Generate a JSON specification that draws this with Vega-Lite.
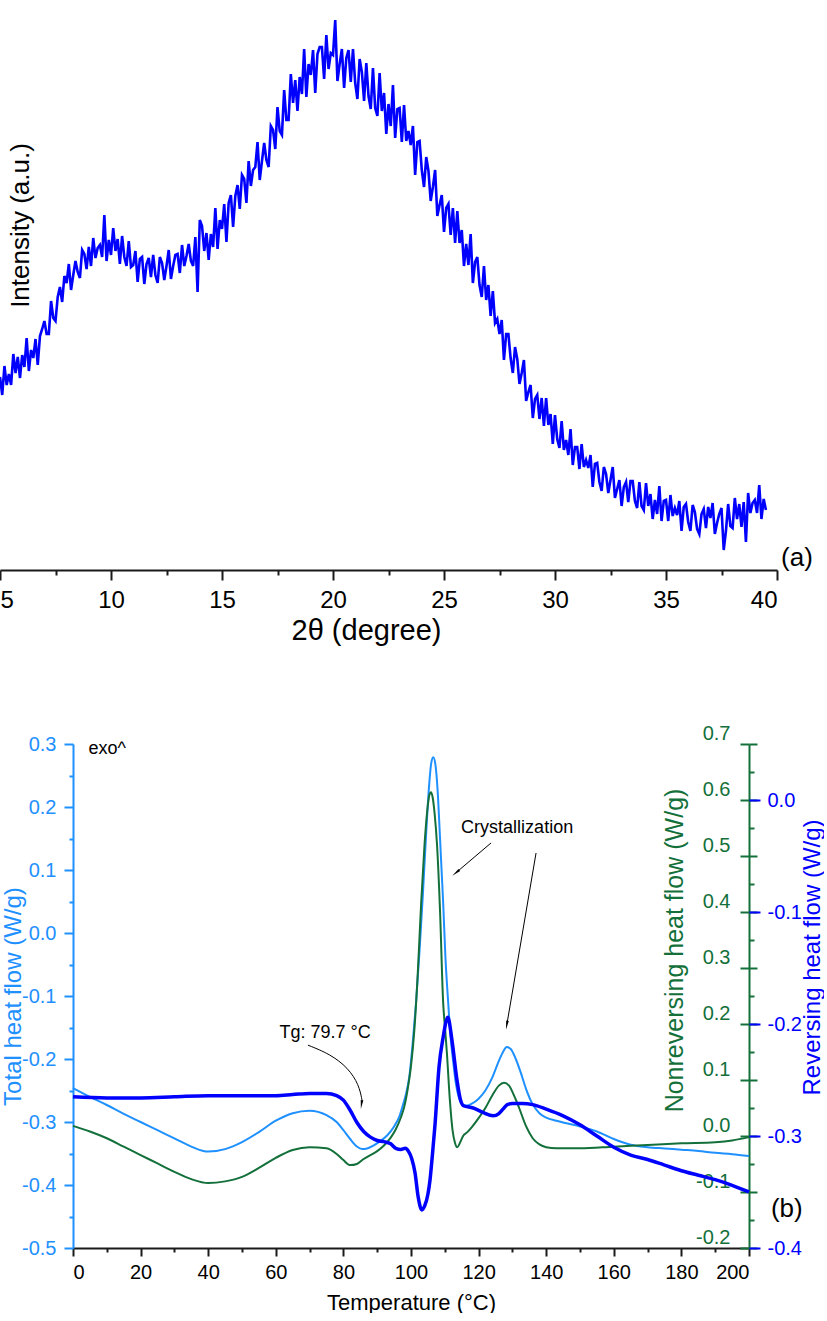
{
  "$schema": "https://vega.github.io/schema/vega-lite/v6.json",
  "background": "white",
  "padding": {"left": -6, "top": 0, "right": 0, "bottom": 0},
  "config": {"view": {"stroke": null}, "font": "Liberation Sans"},
  "datasets": {
    "xrd": [
      {"t":5.0,"i":193},{"t":5.1,"i":175},{"t":5.2,"i":204},{"t":5.3,"i":185},{"t":5.4,"i":196},
      {"t":5.5,"i":185},{"t":5.6,"i":216},{"t":5.7,"i":197},{"t":5.8,"i":213},{"t":5.9,"i":192},
      {"t":6.0,"i":215},{"t":6.1,"i":203},{"t":6.2,"i":232},{"t":6.3,"i":199},{"t":6.4,"i":220},
      {"t":6.5,"i":212},{"t":6.6,"i":231},{"t":6.7,"i":205},{"t":6.8,"i":234},{"t":6.9,"i":241},
      {"t":7.0,"i":249},{"t":7.1,"i":236},{"t":7.2,"i":236},{"t":7.3,"i":269},{"t":7.4,"i":252},
      {"t":7.5,"i":249},{"t":7.6,"i":273},{"t":7.7,"i":283},{"t":7.8,"i":268},{"t":7.9,"i":294},
      {"t":8.0,"i":287},{"t":8.1,"i":306},{"t":8.2,"i":280},{"t":8.3,"i":295},{"t":8.4,"i":309},
      {"t":8.5,"i":298},{"t":8.6,"i":292},{"t":8.7,"i":320},{"t":8.8,"i":316},{"t":8.9,"i":301},
      {"t":9.0,"i":323},{"t":9.1,"i":304},{"t":9.2,"i":332},{"t":9.3,"i":312},{"t":9.4,"i":322},
      {"t":9.5,"i":325},{"t":9.6,"i":313},{"t":9.7,"i":355},{"t":9.8,"i":309},{"t":9.9,"i":330},
      {"t":10.0,"i":315},{"t":10.1,"i":342},{"t":10.2,"i":319},{"t":10.3,"i":331},{"t":10.4,"i":306},
      {"t":10.5,"i":334},{"t":10.6,"i":313},{"t":10.7,"i":304},{"t":10.8,"i":329},{"t":10.9,"i":303},
      {"t":11.0,"i":305},{"t":11.1,"i":319},{"t":11.2,"i":288},{"t":11.3,"i":311},{"t":11.4,"i":313},
      {"t":11.5,"i":286},{"t":11.6,"i":306},{"t":11.7,"i":312},{"t":11.8,"i":293},{"t":11.9,"i":315},
      {"t":12.0,"i":295},{"t":12.1,"i":287},{"t":12.2,"i":313},{"t":12.3,"i":307},{"t":12.4,"i":290},
      {"t":12.5,"i":304},{"t":12.6,"i":320},{"t":12.7,"i":291},{"t":12.8,"i":304},{"t":12.9,"i":315},
      {"t":13.0,"i":316},{"t":13.1,"i":297},{"t":13.2,"i":325},{"t":13.3,"i":304},{"t":13.4,"i":314},
      {"t":13.5,"i":326},{"t":13.6,"i":309},{"t":13.7,"i":304},{"t":13.8,"i":333},{"t":13.9,"i":278},
      {"t":14.0,"i":350},{"t":14.1,"i":344},{"t":14.2,"i":319},{"t":14.3,"i":337},{"t":14.4,"i":310},
      {"t":14.5,"i":336},{"t":14.6,"i":323},{"t":14.7,"i":362},{"t":14.8,"i":321},{"t":14.9,"i":350},
      {"t":15.0,"i":341},{"t":15.1,"i":366},{"t":15.2,"i":328},{"t":15.3,"i":367},{"t":15.4,"i":375},
      {"t":15.5,"i":343},{"t":15.6,"i":374},{"t":15.7,"i":385},{"t":15.8,"i":361},{"t":15.9,"i":395},
      {"t":16.0,"i":391},{"t":16.1,"i":367},{"t":16.2,"i":409},{"t":16.3,"i":384},{"t":16.4,"i":400},
      {"t":16.5,"i":403},{"t":16.6,"i":428},{"t":16.7,"i":390},{"t":16.8,"i":409},{"t":16.9,"i":427},
      {"t":17.0,"i":410},{"t":17.1,"i":403},{"t":17.2,"i":444},{"t":17.3,"i":440},{"t":17.4,"i":421},
      {"t":17.5,"i":463},{"t":17.6,"i":439},{"t":17.7,"i":435},{"t":17.8,"i":480},{"t":17.9,"i":450},
      {"t":18.0,"i":450},{"t":18.1,"i":496},{"t":18.2,"i":467},{"t":18.3,"i":490},{"t":18.4,"i":459},
      {"t":18.5,"i":493},{"t":18.6,"i":476},{"t":18.7,"i":521},{"t":18.8,"i":473},{"t":18.9,"i":506},
      {"t":19.0,"i":495},{"t":19.1,"i":520},{"t":19.2,"i":477},{"t":19.3,"i":516},{"t":19.4,"i":523},
      {"t":19.5,"i":523},{"t":19.6,"i":491},{"t":19.7,"i":535},{"t":19.8,"i":501},{"t":19.9,"i":517},
      {"t":20.0,"i":515},{"t":20.1,"i":550},{"t":20.2,"i":489},{"t":20.3,"i":506},{"t":20.4,"i":521},
      {"t":20.5,"i":482},{"t":20.6,"i":512},{"t":20.7,"i":520},{"t":20.8,"i":488},{"t":20.9,"i":521},
      {"t":21.0,"i":487},{"t":21.1,"i":471},{"t":21.2,"i":511},{"t":21.3,"i":498},{"t":21.4,"i":469},
      {"t":21.5,"i":507},{"t":21.6,"i":474},{"t":21.7,"i":461},{"t":21.8,"i":502},{"t":21.9,"i":462},
      {"t":22.0,"i":454},{"t":22.1,"i":497},{"t":22.2,"i":459},{"t":22.3,"i":477},{"t":22.4,"i":436},
      {"t":22.5,"i":466},{"t":22.6,"i":444},{"t":22.7,"i":485},{"t":22.8,"i":432},{"t":22.9,"i":461},
      {"t":23.0,"i":462},{"t":23.1,"i":428},{"t":23.2,"i":465},{"t":23.3,"i":429},{"t":23.4,"i":439},
      {"t":23.5,"i":425},{"t":23.6,"i":444},{"t":23.7,"i":395},{"t":23.8,"i":428},{"t":23.9,"i":429},
      {"t":24.0,"i":400},{"t":24.1,"i":383},{"t":24.2,"i":413},{"t":24.3,"i":399},{"t":24.4,"i":369},
      {"t":24.5,"i":383},{"t":24.6,"i":400},{"t":24.7,"i":354},{"t":24.8,"i":365},{"t":24.9,"i":375},
      {"t":25.0,"i":338},{"t":25.1,"i":362},{"t":25.2,"i":366},{"t":25.3,"i":335},{"t":25.4,"i":362},
      {"t":25.5,"i":327},{"t":25.6,"i":359},{"t":25.7,"i":327},{"t":25.8,"i":340},{"t":25.9,"i":304},
      {"t":26.0,"i":326},{"t":26.1,"i":305},{"t":26.2,"i":336},{"t":26.3,"i":287},{"t":26.4,"i":308},
      {"t":26.5,"i":313},{"t":26.6,"i":285},{"t":26.7,"i":273},{"t":26.8,"i":304},{"t":26.9,"i":270},
      {"t":27.0,"i":285},{"t":27.1,"i":254},{"t":27.2,"i":279},{"t":27.3,"i":247},{"t":27.4,"i":251},
      {"t":27.5,"i":236},{"t":27.6,"i":250},{"t":27.7,"i":210},{"t":27.8,"i":236},{"t":27.9,"i":236},
      {"t":28.0,"i":212},{"t":28.1,"i":197},{"t":28.2,"i":223},{"t":28.3,"i":211},{"t":28.4,"i":186},
      {"t":28.5,"i":197},{"t":28.6,"i":210},{"t":28.7,"i":169},{"t":28.8,"i":178},{"t":28.9,"i":185},
      {"t":29.0,"i":152},{"t":29.1,"i":171},{"t":29.2,"i":175},{"t":29.3,"i":151},{"t":29.4,"i":172},
      {"t":29.5,"i":144},{"t":29.6,"i":172},{"t":29.7,"i":145},{"t":29.8,"i":156},{"t":29.9,"i":126},
      {"t":30.0,"i":155},{"t":30.1,"i":131},{"t":30.2,"i":122},{"t":30.3,"i":149},{"t":30.4,"i":120},
      {"t":30.5,"i":130},{"t":30.6,"i":115},{"t":30.7,"i":141},{"t":30.8,"i":105},{"t":30.9,"i":123},
      {"t":31.0,"i":123},{"t":31.1,"i":101},{"t":31.2,"i":126},{"t":31.3,"i":103},{"t":31.4,"i":110},
      {"t":31.5,"i":102},{"t":31.6,"i":115},{"t":31.7,"i":83},{"t":31.8,"i":106},{"t":31.9,"i":107},
      {"t":32.0,"i":88},{"t":32.1,"i":79},{"t":32.2,"i":103},{"t":32.3,"i":96},{"t":32.4,"i":77},
      {"t":32.5,"i":90},{"t":32.6,"i":103},{"t":32.7,"i":72},{"t":32.8,"i":81},{"t":32.9,"i":90},
      {"t":33.0,"i":64},{"t":33.1,"i":83},{"t":33.2,"i":88},{"t":33.3,"i":68},{"t":33.4,"i":89},
      {"t":33.5,"i":89},{"t":33.6,"i":69},{"t":33.7,"i":62},{"t":33.8,"i":88},{"t":33.9,"i":64},
      {"t":34.0,"i":60},{"t":34.1,"i":87},{"t":34.2,"i":64},{"t":34.3,"i":76},{"t":34.4,"i":51},
      {"t":34.5,"i":70},{"t":34.6,"i":56},{"t":34.7,"i":84},{"t":34.8,"i":49},{"t":34.9,"i":69},
      {"t":35.0,"i":70},{"t":35.1,"i":49},{"t":35.2,"i":75},{"t":35.3,"i":54},{"t":35.4,"i":62},
      {"t":35.5,"i":55},{"t":35.6,"i":69},{"t":35.7,"i":39},{"t":35.8,"i":63},{"t":35.9,"i":66},
      {"t":36.0,"i":48},{"t":36.1,"i":39},{"t":36.2,"i":65},{"t":36.3,"i":58},{"t":36.4,"i":41},
      {"t":36.5,"i":36},{"t":36.6,"i":56},{"t":36.7,"i":61},{"t":36.8,"i":42},{"t":36.9,"i":63},
      {"t":37.0,"i":52},{"t":37.1,"i":67},{"t":37.2,"i":36},{"t":37.3,"i":47},{"t":37.4,"i":56},
      {"t":37.5,"i":62},{"t":37.6,"i":20},{"t":37.7,"i":39},{"t":37.8,"i":66},{"t":37.9,"i":44},
      {"t":38.0,"i":42},{"t":38.1,"i":72},{"t":38.2,"i":51},{"t":38.3,"i":66},{"t":38.4,"i":43},
      {"t":38.5,"i":68},{"t":38.6,"i":28},{"t":38.7,"i":77},{"t":38.8,"i":57},{"t":38.9,"i":67},
      {"t":39.0,"i":70},{"t":39.1,"i":57},{"t":39.2,"i":85},{"t":39.3,"i":51},{"t":39.4,"i":71},
      {"t":39.5,"i":60}
    ],
    "total": [
      {"T":0,"v":-0.246},{"T":5,"v":-0.26},{"T":10,"v":-0.273},{"T":15,"v":-0.287},{"T":20,"v":-0.3},
      {"T":25,"v":-0.313},{"T":30,"v":-0.326},{"T":35,"v":-0.339},{"T":40,"v":-0.347},{"T":45,"v":-0.343},
      {"T":50,"v":-0.332},{"T":55,"v":-0.316},{"T":60,"v":-0.298},{"T":65,"v":-0.286},{"T":70,"v":-0.282},
      {"T":75,"v":-0.289},{"T":78,"v":-0.3},{"T":80,"v":-0.313},{"T":82,"v":-0.327},{"T":84,"v":-0.339},
      {"T":85.5,"v":-0.343},{"T":87,"v":-0.342},{"T":89,"v":-0.337},{"T":91,"v":-0.33},{"T":93,"v":-0.321},
      {"T":95,"v":-0.307},{"T":96.5,"v":-0.292},{"T":97.5,"v":-0.275},{"T":98.5,"v":-0.256},{"T":99.5,"v":-0.228},
      {"T":100.5,"v":-0.175},{"T":101.5,"v":-0.11},{"T":102.5,"v":-0.03},{"T":103.5,"v":0.06},{"T":104.5,"v":0.16},
      {"T":105.3,"v":0.23},{"T":106,"v":0.27},{"T":106.6,"v":0.279},{"T":107.2,"v":0.268},{"T":108,"v":0.215},
      {"T":108.5,"v":0.16},{"T":109,"v":0.105},{"T":109.5,"v":0.05},{"T":110.2,"v":-0.04},{"T":111,"v":-0.11},
      {"T":111.7,"v":-0.165},{"T":112.5,"v":-0.205},{"T":113.3,"v":-0.24},{"T":114.2,"v":-0.262},{"T":115.2,"v":-0.272},
      {"T":116.5,"v":-0.274},{"T":118,"v":-0.271},{"T":120,"v":-0.263},{"T":122,"v":-0.25},{"T":124,"v":-0.23},
      {"T":126,"v":-0.203},{"T":127.3,"v":-0.188},{"T":128.3,"v":-0.181},{"T":129.5,"v":-0.184},{"T":131,"v":-0.2},
      {"T":132.5,"v":-0.222},{"T":134,"v":-0.247},{"T":136,"v":-0.272},{"T":138,"v":-0.286},{"T":140,"v":-0.293},
      {"T":143,"v":-0.298},{"T":146,"v":-0.302},{"T":150,"v":-0.307},{"T":155,"v":-0.315},{"T":160,"v":-0.327},
      {"T":165,"v":-0.336},{"T":170,"v":-0.34},{"T":175,"v":-0.342},{"T":180,"v":-0.344},{"T":185,"v":-0.346},
      {"T":190,"v":-0.349},{"T":195,"v":-0.351},{"T":200,"v":-0.354}
    ],
    "nonrev": [
      {"T":0,"g":0.018},{"T":5,"g":0.008},{"T":10,"g":-0.004},{"T":15,"g":-0.019},{"T":20,"g":-0.034},
      {"T":25,"g":-0.049},{"T":30,"g":-0.064},{"T":35,"g":-0.077},{"T":40,"g":-0.084},{"T":45,"g":-0.081},
      {"T":50,"g":-0.073},{"T":55,"g":-0.057},{"T":60,"g":-0.039},{"T":65,"g":-0.025},{"T":70,"g":-0.02},
      {"T":75,"g":-0.022},{"T":78,"g":-0.032},{"T":80,"g":-0.043},{"T":82,"g":-0.052},{"T":84,"g":-0.05},
      {"T":86,"g":-0.041},{"T":88,"g":-0.034},{"T":90,"g":-0.027},{"T":92,"g":-0.017},{"T":94,"g":-0.003},
      {"T":95.5,"g":0.012},{"T":97,"g":0.033},{"T":98,"g":0.052},{"T":99,"g":0.083},{"T":100,"g":0.125},
      {"T":101,"g":0.19},{"T":102,"g":0.29},{"T":103,"g":0.415},{"T":104,"g":0.52},{"T":104.8,"g":0.58},
      {"T":105.4,"g":0.608},{"T":105.9,"g":0.614},{"T":106.4,"g":0.605},{"T":107,"g":0.575},{"T":107.7,"g":0.52},
      {"T":108.6,"g":0.4},{"T":109.5,"g":0.24},{"T":110.1,"g":0.19},{"T":110.6,"g":0.15},{"T":111.5,"g":0.064},
      {"T":112.3,"g":0.01},{"T":113,"g":-0.012},{"T":113.7,"g":-0.02},{"T":114.5,"g":-0.012},{"T":115.5,"g":0.001},
      {"T":116.5,"g":0.006},{"T":118,"g":0.016},{"T":120,"g":0.032},{"T":122,"g":0.05},{"T":124,"g":0.072},
      {"T":126,"g":0.09},{"T":127.5,"g":0.095},{"T":129,"g":0.09},{"T":130.5,"g":0.072},{"T":132,"g":0.05},
      {"T":134,"g":0.018},{"T":136,"g":-0.004},{"T":138,"g":-0.015},{"T":140,"g":-0.02},{"T":143,"g":-0.022},
      {"T":150,"g":-0.022},{"T":160,"g":-0.019},{"T":170,"g":-0.016},{"T":180,"g":-0.013},{"T":190,"g":-0.011},
      {"T":195,"g":-0.008},{"T":200,"g":-0.002}
    ],
    "rev": [
      {"T":0,"r":-0.265},{"T":10,"r":-0.266},{"T":20,"r":-0.266},{"T":30,"r":-0.265},{"T":40,"r":-0.264},
      {"T":50,"r":-0.264},{"T":60,"r":-0.264},{"T":65,"r":-0.263},{"T":70,"r":-0.262},{"T":75,"r":-0.262},
      {"T":78,"r":-0.264},{"T":80,"r":-0.268},{"T":82,"r":-0.277},{"T":84,"r":-0.288},{"T":86,"r":-0.296},
      {"T":88,"r":-0.301},{"T":90,"r":-0.304},{"T":92,"r":-0.305},{"T":94,"r":-0.307},{"T":95.5,"r":-0.311},
      {"T":97,"r":-0.312},{"T":98.3,"r":-0.311},{"T":99.3,"r":-0.314},{"T":100.2,"r":-0.32},{"T":101.2,"r":-0.333},
      {"T":102.1,"r":-0.354},{"T":103.2,"r":-0.366},{"T":104.1,"r":-0.362},{"T":105,"r":-0.352},{"T":105.6,"r":-0.34},
      {"T":106.3,"r":-0.318},{"T":107.1,"r":-0.29},{"T":108.3,"r":-0.238},{"T":109.5,"r":-0.212},{"T":110.9,"r":-0.194},
      {"T":112.1,"r":-0.214},{"T":113.6,"r":-0.25},{"T":114.5,"r":-0.266},{"T":115.5,"r":-0.273},{"T":118.4,"r":-0.275},
      {"T":121.3,"r":-0.279},{"T":124.3,"r":-0.282},{"T":126,"r":-0.28},{"T":127.2,"r":-0.276},{"T":128.5,"r":-0.272},
      {"T":130,"r":-0.271},{"T":133,"r":-0.271},{"T":136,"r":-0.272},{"T":140,"r":-0.276},{"T":145,"r":-0.282},
      {"T":150,"r":-0.29},{"T":155,"r":-0.3},{"T":160,"r":-0.31},{"T":165,"r":-0.317},{"T":170,"r":-0.321},
      {"T":175,"r":-0.326},{"T":180,"r":-0.331},{"T":185,"r":-0.335},{"T":190,"r":-0.339},{"T":195,"r":-0.344},
      {"T":200,"r":-0.35}
    ]
  },
  "concat": [
    {
      "width": 777,
      "height": 570,
      "layer": [
        {
          "data": {"name": "xrd"},
          "mark": {"type": "line", "color": "#0000FF", "strokeWidth": 2.6},
          "encoding": {
            "x": {"field": "t", "type": "quantitative", "scale": {"domain": [5, 40], "nice": false, "zero": false},
              "axis": {"orient": "bottom", "values": [5, 10, 15, 20, 25, 30, 35, 40], "format": "d", "title": "2θ (degree)", "grid": false,
                "domainColor": "#1a1a1a", "domainWidth": 2, "tickColor": "#1a1a1a", "tickWidth": 2, "tickSize": 10,
                "labelFontSize": 24, "labelColor": "#000", "labelPadding": 8,
                "titleFontSize": 29, "titleColor": "#000", "titleFontWeight": "normal",
                "titleX": 366, "titleY": 60, "titleAlign": "center", "titleBaseline": "middle"}},
            "y": {"field": "i", "type": "quantitative", "scale": {"domain": [0, 570], "nice": false, "zero": false},
              "axis": {"orient": "left", "domain": false, "ticks": false, "labels": false, "grid": false, "title": "Intensity (a.u.)",
                "titleFontSize": 26, "titleFontWeight": "normal", "titleColor": "#000", "titleX": 20, "titleY": 225,
                "titleAngle": 270, "titleAlign": "center", "titleBaseline": "middle"}}
          }
        },
        {
          "data": {"name": "xrd"},
          "mark": {"type": "point", "opacity": 0},
          "encoding": {
            "x": {"field": "t", "type": "quantitative",
              "axis": {"orient": "bottom", "values": [7.5, 12.5, 17.5, 22.5, 27.5, 32.5, 37.5], "labels": false, "domain": false, "title": null, "grid": false,
                "tickSize": 5, "tickWidth": 2, "tickColor": "#1a1a1a"}},
            "y": {"field": "i", "type": "quantitative", "axis": null}
          }
        },
        {
          "data": {"values": [{"t": 40.9, "i": 12, "label": "(a)"}]},
          "mark": {"type": "text", "fontSize": 26, "color": "#000"},
          "encoding": {
            "x": {"field": "t", "type": "quantitative", "axis": null},
            "y": {"field": "i", "type": "quantitative", "axis": null},
            "text": {"field": "label"}
          }
        }
      ],
      "resolve": {"axis": {"x": "independent", "y": "independent"}}
    },
    {
      "width": 749,
      "height": 504,
      "layer": [
        {
          "data": {"name": "total"},
          "mark": {"type": "line", "color": "#1E90FF", "strokeWidth": 2, "interpolate": "monotone"},
          "encoding": {
            "x": {"field": "T", "type": "quantitative", "scale": {"domain": [0, 200], "range": [73, 749], "nice": false, "zero": false},
              "axis": {"orient": "bottom", "values": [0, 20, 40, 60, 80, 100, 120, 140, 160, 180, 200], "format": "d", "title": "Temperature (°C)", "grid": false,
                "domainColor": "#1a1a1a", "domainWidth": 2, "tickColor": "#1a1a1a", "tickWidth": 2, "tickSize": 8,
                "labelFontSize": 20, "labelColor": "#000", "labelPadding": 6,
                "titleFontSize": 22, "titleColor": "#000", "titleFontWeight": "normal", "titlePadding": 10}},
            "y": {"field": "v", "type": "quantitative", "scale": {"domain": [-0.5, 0.3], "nice": false, "zero": false},
              "axis": {"orient": "left", "offset": -73, "values": [-0.5, -0.4, -0.3, -0.2, -0.1, 0, 0.1, 0.2, 0.3],
                "labelExpr": "replace(format(datum.value, '.1f'), '\u2212', '-')", "grid": false,
                "domainColor": "#1E90FF", "domainWidth": 2, "tickColor": "#1E90FF", "tickWidth": 2, "tickSize": 9,
                "labelColor": "#1E90FF", "labelFontSize": 20, "labelPadding": 8,
                "title": "Total heat flow (W/g)", "titleColor": "#1E90FF", "titleFontSize": 24, "titleFontWeight": "normal",
                "titleAngle": 270, "titleX": -60, "titleY": 252, "titleAlign": "center", "titleBaseline": "middle"}}
          }
        },
        {
          "data": {"name": "total"},
          "mark": {"type": "point", "opacity": 0},
          "encoding": {
            "x": {"field": "T", "type": "quantitative",
              "axis": {"orient": "bottom", "values": [10, 30, 50, 70, 90, 110, 130, 150, 170, 190], "labels": false, "domain": false, "title": null, "grid": false,
                "tickSize": 4, "tickWidth": 2, "tickColor": "#1a1a1a"}},
            "y": {"field": "v", "type": "quantitative", "scale": {"domain": [-0.5, 0.3], "nice": false, "zero": false},
              "axis": {"orient": "left", "offset": -73, "values": [-0.45, -0.35, -0.25, -0.15, -0.05, 0.05, 0.15, 0.25], "labels": false, "domain": false,
                "title": null, "grid": false, "tickSize": 4, "tickWidth": 2, "tickColor": "#1E90FF"}}
          }
        },
        {
          "data": {"name": "nonrev"},
          "mark": {"type": "line", "color": "#13703A", "strokeWidth": 2, "interpolate": "monotone"},
          "encoding": {
            "x": {"field": "T", "type": "quantitative", "axis": null},
            "y": {"field": "g", "type": "quantitative", "scale": {"domain": [-0.2, 0.7], "nice": false, "zero": false},
              "axis": {"orient": "right", "values": [-0.2, -0.1, 0, 0.1, 0.2, 0.3, 0.4, 0.5, 0.6, 0.7],
                "labelExpr": "replace(format(datum.value, '.1f'), '\u2212', '-')", "grid": false,
                "domainColor": "#13703A", "domainWidth": 2, "tickColor": "#13703A", "tickWidth": 2, "tickSize": 8,
                "labelColor": "#13703A", "labelFontSize": 20, "labelAlign": "right", "labelPadding": -27, "labelOffset": -11,
                "title": "Nonreversing heat flow (W/g)", "titleColor": "#13703A", "titleFontSize": 25, "titleFontWeight": "normal",
                "titleAngle": 270, "titleX": -75, "titleY": 206, "titleAlign": "center", "titleBaseline": "middle"}}
          }
        },
        {
          "data": {"name": "nonrev"},
          "mark": {"type": "point", "opacity": 0},
          "encoding": {
            "x": {"field": "T", "type": "quantitative", "axis": null},
            "y": {"field": "g", "type": "quantitative", "scale": {"domain": [-0.2, 0.7], "nice": false, "zero": false},
              "axis": {"orient": "right", "values": [-0.2, -0.1, 0, 0.1, 0.2, 0.3, 0.4, 0.5, 0.6, 0.7], "labels": false, "domain": false,
                "title": null, "grid": false, "tickSize": -9, "tickWidth": 2, "tickColor": "#13703A"}}
          }
        },
        {
          "data": {"name": "nonrev"},
          "mark": {"type": "point", "opacity": 0},
          "encoding": {
            "x": {"field": "T", "type": "quantitative", "axis": null},
            "y": {"field": "g", "type": "quantitative", "scale": {"domain": [-0.2, 0.7], "nice": false, "zero": false},
              "axis": {"orient": "right", "values": [-0.15, -0.05, 0.05, 0.15, 0.25, 0.35, 0.45, 0.55, 0.65], "labels": false, "domain": false,
                "title": null, "grid": false, "tickSize": 5, "tickWidth": 2, "tickColor": "#13703A"}}
          }
        },
        {
          "data": {"name": "rev"},
          "mark": {"type": "line", "color": "#0000FF", "strokeWidth": 3.5, "interpolate": "monotone"},
          "encoding": {
            "x": {"field": "T", "type": "quantitative", "axis": null},
            "y": {"field": "r", "type": "quantitative", "scale": {"domain": [-0.4, 0.05], "nice": false, "zero": false},
              "axis": {"orient": "right", "values": [-0.4, -0.3, -0.2, -0.1, 0],
                "labelExpr": "replace(format(datum.value, '.1f'), '\u2212', '-')", "grid": false, "domain": false,
                "tickColor": "#0000FF", "tickWidth": 2, "tickSize": 11,
                "labelColor": "#0000FF", "labelFontSize": 20, "labelPadding": 7,
                "title": "Reversing heat flow (W/g)", "titleColor": "#0000FF", "titleFontSize": 24, "titleFontWeight": "normal",
                "titleAngle": 270, "titleX": 63, "titleY": 213, "titleAlign": "center", "titleBaseline": "middle"}}
          }
        },
        {
          "data": {"values": [
            {"T": 10.1, "v": 0.292, "label": "exo^"},
            {"T": 74.6, "v": -0.159, "label": "Tg: 79.7 °C"},
            {"T": 131.4, "v": 0.167, "label": "Crystallization"}
          ]},
          "mark": {"type": "text", "fontSize": 18, "color": "#000"},
          "encoding": {
            "x": {"field": "T", "type": "quantitative", "axis": null},
            "y": {"field": "v", "type": "quantitative", "scale": {"domain": [-0.5, 0.3], "nice": false, "zero": false}, "axis": null},
            "text": {"field": "label"}
          }
        },
        {
          "data": {"values": [{"T": 211.2, "v": -0.438, "label": "(b)"}]},
          "mark": {"type": "text", "fontSize": 26, "color": "#000"},
          "encoding": {
            "x": {"field": "T", "type": "quantitative", "axis": null},
            "y": {"field": "v", "type": "quantitative", "scale": {"domain": [-0.5, 0.3], "nice": false, "zero": false}, "axis": null},
            "text": {"field": "label"}
          }
        },
        {
          "data": {"values": [
            {"T": 123.7, "v": 0.143, "T2": 113.6, "v2": 0.097},
            {"T": 137.0, "v": 0.127, "T2": 128.4, "v2": -0.144}
          ]},
          "mark": {"type": "rule", "color": "#000", "strokeWidth": 1},
          "encoding": {
            "x": {"field": "T", "type": "quantitative", "axis": null},
            "y": {"field": "v", "type": "quantitative", "scale": {"domain": [-0.5, 0.3], "nice": false, "zero": false}, "axis": null},
            "x2": {"field": "T2"},
            "y2": {"field": "v2"}
          }
        },
        {
          "data": {"values": [
            {"T": 69.5, "v": -0.178, "k": 1},
            {"T": 76.0, "v": -0.192, "k": 2},
            {"T": 81.4, "v": -0.214, "k": 3},
            {"T": 84.6, "v": -0.241, "k": 4},
            {"T": 85.5, "v": -0.265, "k": 5}
          ]},
          "mark": {"type": "line", "color": "#000", "strokeWidth": 1, "interpolate": "basis"},
          "encoding": {
            "x": {"field": "T", "type": "quantitative", "axis": null},
            "y": {"field": "v", "type": "quantitative", "scale": {"domain": [-0.5, 0.3], "nice": false, "zero": false}, "axis": null},
            "order": {"field": "k"}
          }
        },
        {
          "data": {"values": [{"T": 85.4, "v": -0.27}]},
          "mark": {"type": "point", "shape": "wedge", "filled": true, "color": "#000", "opacity": 1, "size": 110, "angle": 188},
          "encoding": {
            "x": {"field": "T", "type": "quantitative", "axis": null},
            "y": {"field": "v", "type": "quantitative", "scale": {"domain": [-0.5, 0.3], "nice": false, "zero": false}, "axis": null}
          }
        },
        {
          "data": {"values": [{"T": 113.6, "v": 0.097}]},
          "mark": {"type": "point", "shape": "wedge", "filled": true, "color": "#000", "opacity": 1, "size": 110, "angle": 230},
          "encoding": {
            "x": {"field": "T", "type": "quantitative", "axis": null},
            "y": {"field": "v", "type": "quantitative", "scale": {"domain": [-0.5, 0.3], "nice": false, "zero": false}, "axis": null}
          }
        },
        {
          "data": {"values": [{"T": 128.4, "v": -0.144}]},
          "mark": {"type": "point", "shape": "wedge", "filled": true, "color": "#000", "opacity": 1, "size": 110, "angle": 190},
          "encoding": {
            "x": {"field": "T", "type": "quantitative", "axis": null},
            "y": {"field": "v", "type": "quantitative", "scale": {"domain": [-0.5, 0.3], "nice": false, "zero": false}, "axis": null}
          }
        }
      ],
      "resolve": {"scale": {"y": "independent"}, "axis": {"x": "independent", "y": "independent"}}
    }
  ],
  "columns": 1,
  "align": "none",
  "spacing": 78
}
